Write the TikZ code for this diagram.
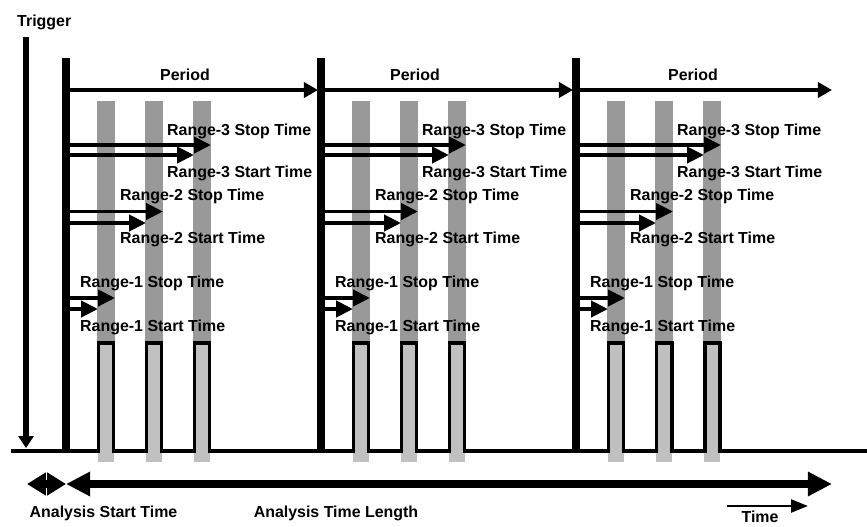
\documentclass[tikz,border=0pt]{standalone}
\usepackage{fontspec}
\setmainfont{Liberation Sans}
\usepackage{tikz}
\usetikzlibrary{arrows.meta}
\definecolor{gatedark}{RGB}{153,153,153}
\definecolor{gatelight}{RGB}{192,192,192}
\tikzset{
  lbl/.style ={font=\bfseries\fontsize{13.6}{16}\selectfont,inner sep=0pt,anchor=base west},
  wave/.style={line width=3.4pt},
  pbar/.style={line width=6pt},
  trg/.style ={line width=4.3pt,-{Triangle[length=10.2pt,width=12.8pt]}},
  per/.style ={line width=3.4pt,-{Triangle[length=12pt,width=12.8pt]}},
  ar/.style  ={line width=3.4pt,-{Triangle[length=14.5pt,width=13.7pt]}},
  big/.style ={line width=6pt},
  tarr/.style={line width=2.3pt,-{Triangle[length=14.5pt,width=11pt]}},
}
\begin{document}
\begin{tikzpicture}[x=0.03cm,y=-0.03cm]
  \useasboundingbox (0,0) rectangle (867,526);
  % gates: dark above the pulse, light inside and below it
  \foreach \x in {66,321,576}{
    \foreach \o in {40,88,136}{
      \fill[gatedark] (\x+\o-9,101) rectangle (\x+\o+9,343);
      \fill[gatelight] (\x+\o-8,343) rectangle (\x+\o+8,462);
    }
  }
  % trigger
  \node[lbl] (trig) at (17,26) {Trigger};
  \coordinate (trigtop) at (26,37);
  \coordinate (trigend) at (26,448);
  \draw[trg] (trigtop) -- (trigend);
  % signal with the pulses
  \draw[wave] (11,451)
    \foreach \x in {66,321,576}{
      \foreach \o in {40,88,136}{
        -- (\x+\o-7.5,451) -- (\x+\o-7.5,343) -- (\x+\o+7.5,343) -- (\x+\o+7.5,451)
      }
    } -- (867,451);
  % periods
  \foreach \p/\x/\e/\lx in {1/66/318/185, 2/321/573/415, 3/576/832/693}{
    \coordinate (top\p) at (\x,58);
    \coordinate (bot\p) at (\x,453);
    \draw[pbar] (top\p) -- (bot\p);
    \coordinate (ps\p) at (\x+3,90);
    \coordinate (pe\p) at (\e,90);
    \draw[per] (ps\p) -- (pe\p);
    \node[lbl,anchor=base] (per\p) at (\lx,80) {Period};
    % range start / stop arrows and their labels
    \foreach \r/\o/\ys/\yt/\ls/\lt/\lx in {1/40/298/309/287/331.5/14, 2/88/211.5/223/200.5/243/54, 3/136/145/155/135/177.5/101}{
      \coordinate (ss\p\r) at (\x+3,\ys);
      \coordinate (se\p\r) at (\x+\o+9,\ys);
      \coordinate (ts\p\r) at (\x+3,\yt);
      \coordinate (te\p\r) at (\x+\o-8,\yt);
      \draw[ar] (ss\p\r) -- (se\p\r);
      \draw[ar] (ts\p\r) -- (te\p\r);
      \node[lbl] (stop\p\r) at (\x+\lx,\ls) {Range-\r{} Stop Time};
      \node[lbl] (start\p\r) at (\x+\lx,\lt) {Range-\r{} Start Time};
    }
  }
  % analysis window
  \coordinate (a0) at (27,484);
  \coordinate (a1) at (66,484);
  \coordinate (a2) at (832,484);
  \draw[big,{Triangle[length=16.2pt,width=18.8pt]}-{Triangle[length=16.2pt,width=18.8pt]}] (a0) -- (a1);
  \draw[big,{Triangle[length=20.5pt,width=19.6pt]}-{Triangle[length=20.5pt,width=19.6pt]}] (a1) -- (a2);
  \node[lbl,anchor=base] (ast) at (103.5,517.7) {Analysis Start Time};
  \node[lbl,anchor=base] (atl) at (336,517.7) {Analysis Time Length};
  \coordinate (t0) at (727,506);
  \coordinate (t1) at (808,506);
  \draw[tarr] (t0) -- (t1);
  \node[lbl,anchor=base] (time) at (760,522) {Time};
\end{tikzpicture}
\end{document}
